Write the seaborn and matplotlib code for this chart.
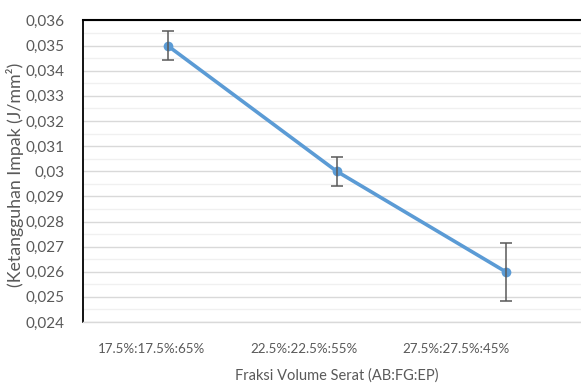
import matplotlib.pyplot as plt
import matplotlib.ticker as mticker
import numpy as np
import pandas as pd
import seaborn as sns

# Data
fractions = ['17.5%:17.5%:65%', '22.5%:22.5%:55%', '27.5%:27.5%:45%']
toughness = [0.0350, 0.0300, 0.0260]
errors = [0.00057, 0.00057, 0.00115]

y_ticks = np.arange(0.024, 0.03601, 0.001)

sns.set_style('white')
plt.rcParams['font.family'] = ['Lato', 'DejaVu Sans']

df = pd.DataFrame({'Fraksi': fractions, 'Ketangguhan': toughness})

fig = plt.figure(figsize=(5.81, 3.85), dpi=100)
ax = fig.add_axes([0.1429, 0.1636, 0.873, 0.7832])

blue = '#5B9BD5'
sns.lineplot(data=df, x='Fraksi', y='Ketangguhan', ax=ax, color=blue,
             linewidth=2.6, marker='o', markersize=7, markeredgewidth=0,
             zorder=3)
ax.errorbar(range(len(fractions)), toughness, yerr=errors, fmt='none',
            ecolor='#595959', elinewidth=1.1, capsize=4, capthick=1.1,
            zorder=4)

ax.set_xlim(-0.5, 2.5)
ax.set_ylim(0.024, 0.036)
ax.set_yticks(y_ticks)
ax.yaxis.set_minor_locator(mticker.MultipleLocator(0.0005))
# Excel style: comma decimal, trailing zeros dropped (0,03)
ax.yaxis.set_major_formatter(
    mticker.FuncFormatter(lambda v, p: f'{v:.3f}'.rstrip('0').replace('.', ',')))

# x labels sit a little left of the points in the original
ax.set_xticks([-0.095, 0.805, 1.705])
ax.set_xticklabels(fractions, fontsize=9.6)

ax.grid(axis='y', which='major', color='#d9d9d9', linewidth=1.0)
ax.grid(axis='y', which='minor', color='#f0f0f0', linewidth=1.0)
ax.set_axisbelow(True)

ax.tick_params(axis='both', which='both', length=0, labelcolor='#595959')
ax.tick_params(axis='y', labelsize=11, pad=13)
ax.tick_params(axis='x', pad=15)

ax.set_xlabel('Fraksi Volume Serat (AB:FG:EP)', fontsize=10.5,
              color='#595959', labelpad=10)
ax.set_ylabel('(Ketangguhan Impak (J/mm²)', fontsize=12.8, color='#595959')
ax.yaxis.set_label_coords(-0.117, 0.487)

ax.spines['left'].set_color('black')
ax.spines['left'].set_linewidth(1.3)
ax.spines['top'].set_color('black')
ax.spines['top'].set_linewidth(1.5)
ax.spines['bottom'].set_color('#d9d9d9')
ax.spines['bottom'].set_linewidth(1.0)
ax.spines['right'].set_visible(False)

fig.savefig('out.png', dpi=100)
